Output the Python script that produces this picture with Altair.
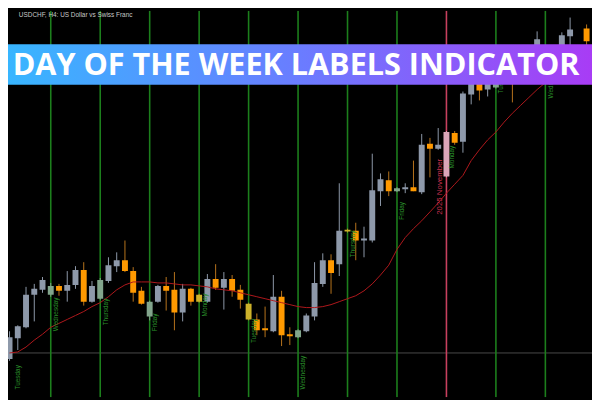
import altair as alt
import pandas as pd

# ---- data (USDCHF H4) ----
opens = [0.7939, 0.7960, 0.7971, 0.8004, 0.8009, 0.8004, 0.8013, 0.8008, 0.8014, 0.8029,
         0.7997, 0.8000, 0.8018, 0.8033, 0.8039, 0.8028, 0.8008, 0.7982, 0.7997, 0.8013,
         0.8009, 0.7986, 0.8010, 0.8004, 0.7997, 0.8020, 0.8011, 0.8020, 0.8009, 0.7995,
         0.7979, 0.7970, 0.7967, 0.8002, 0.7964, 0.7961, 0.7967, 0.7982, 0.8015, 0.8039,
         0.8035, 0.8070, 0.8069, 0.8059, 0.8059, 0.8109, 0.8120, 0.8109, 0.8111, 0.8113,
         0.8108, 0.8157, 0.8152, 0.8124, 0.8168, 0.8159, 0.8207, 0.8220, 0.8212, 0.8214,
         0.8222, 0.8232, 0.8222, 0.8240, 0.8248, 0.8255, 0.8242, 0.8252, 0.8266, 0.8255,
         0.8274]
highs = [0.7967, 0.7973, 0.8012, 0.8015, 0.8022, 0.8016, 0.8015, 0.8028, 0.8033, 0.8037,
         0.8018, 0.8021, 0.8042, 0.8047, 0.8059, 0.8032, 0.8012, 0.7998, 0.8014, 0.8022,
         0.8027, 0.8015, 0.8011, 0.8005, 0.8025, 0.8035, 0.8027, 0.8024, 0.8014, 0.7996,
         0.7985, 0.7992, 0.8024, 0.8008, 0.7971, 0.7969, 0.7985, 0.8037, 0.8046, 0.8045,
         0.8117, 0.8071, 0.8077, 0.8073, 0.8147, 0.8127, 0.8129, 0.8113, 0.8117, 0.8140,
         0.8167, 0.8163, 0.8173, 0.8170, 0.8170, 0.8210, 0.8225, 0.8226, 0.8228, 0.8230,
         0.8240, 0.8238, 0.8245, 0.8254, 0.8271, 0.8256, 0.8256, 0.8270, 0.8285, 0.8257,
         0.8278]
lows = [0.7937, 0.7948, 0.7970, 0.7977, 0.8006, 0.8002, 0.8003, 0.7997, 0.8010, 0.7993,
        0.7996, 0.7999, 0.8016, 0.8027, 0.8027, 0.7997, 0.7994, 0.7978, 0.7996, 0.7988,
        0.7968, 0.7977, 0.7993, 0.7996, 0.7996, 0.8009, 0.7989, 0.8002, 0.7990, 0.7978,
        0.7963, 0.7961, 0.7966, 0.7952, 0.7953, 0.7960, 0.7966, 0.7978, 0.8012, 0.8005,
        0.8023, 0.8067, 0.8039, 0.8042, 0.8057, 0.8094, 0.8104, 0.8108, 0.8107, 0.8109,
        0.8106, 0.8123, 0.8151, 0.8123, 0.8156, 0.8148, 0.8197, 0.8201, 0.8205, 0.8213,
        0.8220, 0.8199, 0.8220, 0.8235, 0.8245, 0.8238, 0.8240, 0.8250, 0.8256, 0.8240,
        0.8256]
closes = [0.7961, 0.7972, 0.8004, 0.8010, 0.8019, 0.8013, 0.8008, 0.8014, 0.8029, 0.7997,
          0.8013, 0.8019, 0.8034, 0.8039, 0.8028, 0.8006, 0.7995, 0.7997, 0.8013, 0.8008,
          0.7986, 0.8010, 0.7997, 0.7997, 0.8020, 0.8011, 0.8020, 0.8008, 0.7999, 0.7979,
          0.7968, 0.7968, 0.8002, 0.7963, 0.7962, 0.7968, 0.7983, 0.8016, 0.8039, 0.8026,
          0.8069, 0.8068, 0.8059, 0.8061, 0.8110, 0.8121, 0.8109, 0.8112, 0.8113, 0.8109,
          0.8156, 0.8152, 0.8156, 0.8169, 0.8158, 0.8208, 0.8220, 0.8211, 0.8222, 0.8220,
          0.8234, 0.8220, 0.8240, 0.8250, 0.8263, 0.8245, 0.8254, 0.8267, 0.8273, 0.8245,
          0.8261]
ma = [0.7945, 0.7946, 0.7951, 0.7958, 0.7964, 0.7971, 0.7975, 0.7979, 0.7983, 0.7987,
      0.7992, 0.7996, 0.8002, 0.8009, 0.8014, 0.8017, 0.8017, 0.8017, 0.8016, 0.8016,
      0.8015, 0.8014, 0.8014, 0.8013, 0.8012, 0.8010, 0.8009, 0.8008, 0.8006, 0.8004,
      0.8002, 0.8000, 0.7998, 0.7996, 0.7994, 0.7992, 0.7991, 0.7991, 0.7992, 0.7994,
      0.7997, 0.8000, 0.8003, 0.8008, 0.8015, 0.8024, 0.8034, 0.8050, 0.8062, 0.8071,
      0.8079, 0.8088, 0.8097, 0.8107, 0.8116, 0.8125, 0.8140, 0.8151, 0.8161, 0.8169,
      0.8179, 0.8188, 0.8196, 0.8204, 0.8212, 0.8219, 0.8225, 0.8231, 0.8236, 0.8240,
      0.8244]

day_idx = [-1, 5, 11, 17, 23, 29, 35, 41, 47, 53, 59, 65]
day_names = ["Tuesday", "Wednesday", "Thursday", "Friday", "Monday", "Tuesday",
             "Wednesday", "Thursday", "Friday", "Monday", "Tuesday", "Wednesday"]
day_label_price = [0.7908, 0.7967, 0.7973, 0.7967, 0.7982, 0.7955,
                   0.7908, 0.8042, 0.8080, 0.8132, 0.8208, 0.8203]
month_idx = [53]
month_labels = ["2025 November"]
month_label_price = [0.8085]
bid_price = [0.7945]
symbol_title = "USDCHF, H4:  US Dollar vs Swiss Franc"
banner_text = "DAY OF THE WEEK LABELS INDICATOR"

# ---- styles ----
W, H = 592, 392
BODY = {"bull": "#8e99aa", "bear": "#ff9900", "bull_day": "#82a58c",
        "bear_day": "#cdb22a", "bull_month": "#dba5b9", "bear_month": "#e0a080"}
WICK = {"bull": "#8e99aa", "bear": "#b8741c", "bull_day": "#82a58c",
        "bear_day": "#a89020", "bull_month": "#dba5b9", "bear_month": "#e0a080"}

rows = []
for i in range(len(opens)):
    kind = "bull" if closes[i] >= opens[i] else "bear"
    if i in month_idx:
        kind += "_month"
    elif i in day_idx:
        kind += "_day"
    rows.append({"i": i, "o": opens[i], "h": highs[i], "l": lows[i], "c": closes[i],
                 "ma": ma[i], "body": BODY[kind], "wick": WICK[kind]})
candles = pd.DataFrame(rows)

days = pd.DataFrame({"i": day_idx, "name": day_names, "p": day_label_price,
                     "col": ["#c8405e" if d in month_idx else "#1c7f1c" for d in day_idx]})
first_day = days[days["i"] < 0]
other_days = days[days["i"] >= 0]
months = pd.DataFrame({"i": month_idx, "name": month_labels, "p": month_label_price})

xs = alt.Scale(domain=[(8 - 4.5) / 8.5, (600 - 4.5) / 8.5], nice=False, zero=False)
ys = alt.Scale(domain=[0.7900, 0.8292], nice=False, zero=False)
X = alt.X("i:Q", scale=xs, axis=None)
Yp = alt.Y("p:Q", scale=ys, axis=None)

bid = alt.Chart(pd.DataFrame({"p": bid_price})).mark_rule(
    color="#4a4a4a", strokeWidth=1).encode(y=Yp)

vlines = alt.Chart(days).mark_rule(strokeWidth=1.6, clip=True).encode(
    x=X, color=alt.Color("col:N", scale=None))

wicks = alt.Chart(candles).mark_rule(strokeWidth=1, clip=True).encode(
    x=X, y=alt.Y("l:Q", scale=ys, axis=None), y2="h:Q",
    color=alt.Color("wick:N", scale=None))

bodies = alt.Chart(candles).mark_bar(size=6, clip=True).encode(
    x=X, y=alt.Y("o:Q", scale=ys, axis=None), y2="c:Q",
    color=alt.Color("body:N", scale=None))

ma_line = alt.Chart(candles).mark_line(color="#b0181c", strokeWidth=1, clip=True).encode(
    x=X, y=alt.Y("ma:Q", scale=ys, axis=None))

day_text = alt.Chart(other_days).mark_text(
    angle=270, align="left", baseline="top", dy=2.5, fontSize=6.5,
    font="Liberation Sans", color="#2a8f2a").encode(x=X, y=Yp, text="name:N")

# label of the day line that lies just left of the visible area
first_text = alt.Chart(first_day).mark_text(
    angle=270, align="left", baseline="top", dy=13.5, fontSize=6.5,
    font="Liberation Sans", color="#2a8f2a").encode(x=X, y=Yp, text="name:N")

month_text = alt.Chart(months).mark_text(
    angle=270, align="left", baseline="bottom", dy=-2, fontSize=8,
    font="Liberation Sans", color="#c8304f").encode(x=X, y=Yp, text="name:N")

grad = alt.Gradient(gradient="linear",
                    stops=[alt.GradientStop(color="#38b6ff", offset=0),
                           alt.GradientStop(color="#6a7cff", offset=0.5),
                           alt.GradientStop(color="#a83cf5", offset=1)],
                    x1=0, x2=1, y1=0, y2=0)
banner = alt.Chart(pd.DataFrame({"t": [banner_text]})).mark_rect(color=grad).encode(
    x=alt.value(0), x2=alt.value(W), y=alt.value(34), y2=alt.value(75))
banner_txt = alt.Chart(pd.DataFrame({"t": [banner_text]})).mark_text(
    font="Open Sans", fontSize=31, fontWeight="bold", color="white",
    align="center", baseline="alphabetic").encode(
    x=alt.value(292), y=alt.value(65), text="t:N")

title = alt.Chart(pd.DataFrame({"t": [symbol_title]})).mark_text(
    font="Liberation Sans", fontSize=6.5, color="#c8c8c8",
    align="left", baseline="top").encode(
    x=alt.value(11), y=alt.value(1), text="t:N")

chart = alt.layer(bid, vlines, wicks, bodies, ma_line, day_text, first_text, month_text,
                  banner, banner_txt, title).properties(
    width=W, height=H, background="black", padding=0,
    autosize=alt.AutoSizeParams(type="none")).configure_view(stroke=None)

chart.save("out.html", embed_options={"renderer": "svg", "actions": False})
